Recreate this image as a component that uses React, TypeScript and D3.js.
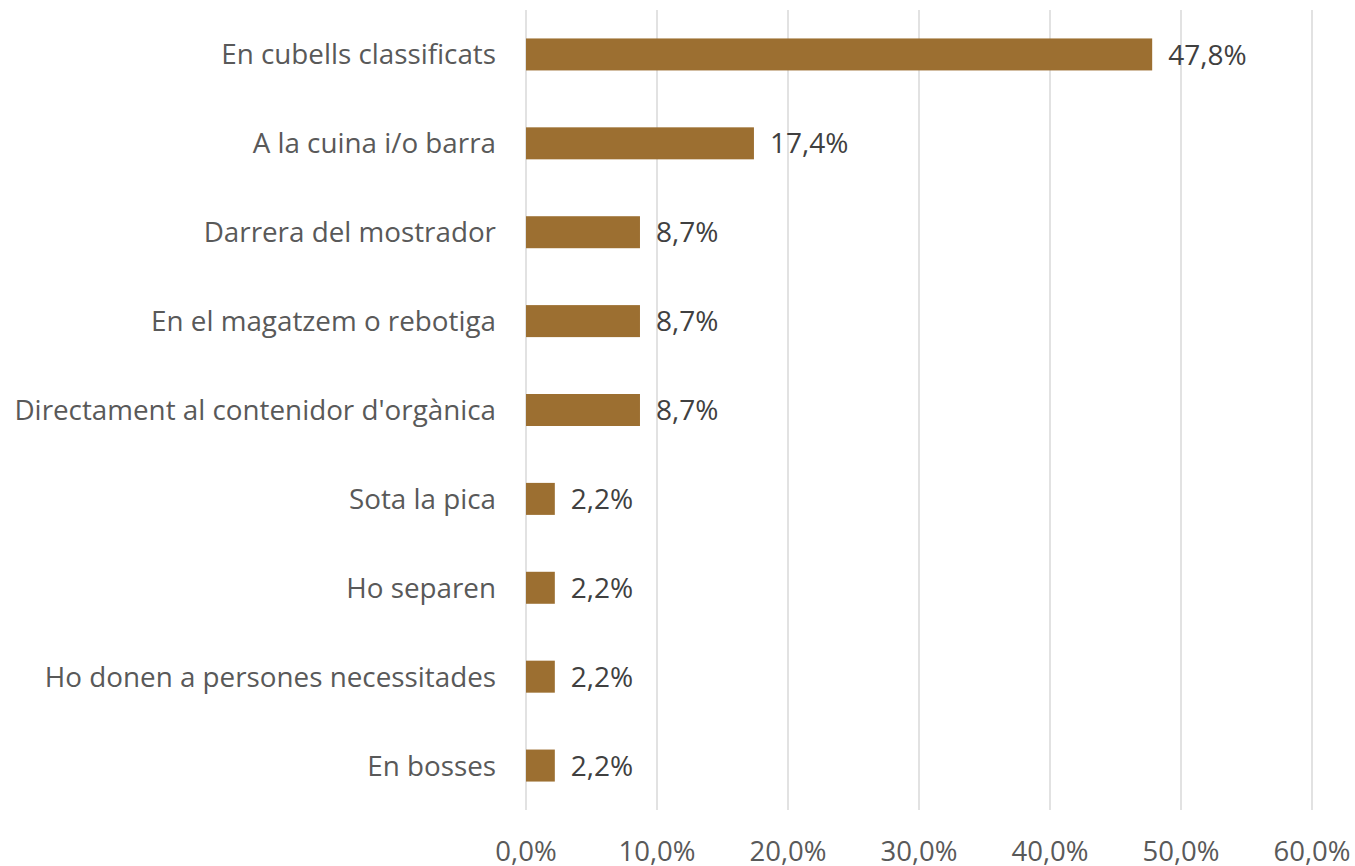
import React from "react";
import * as d3 from "d3";

const categories = [
  "En cubells classificats",
  "A la cuina i/o barra",
  "Darrera del mostrador",
  "En el magatzem o rebotiga",
  "Directament al contenidor d'orgànica",
  "Sota la pica",
  "Ho separen",
  "Ho donen a persones necessitades",
  "En bosses",
];
const values = [47.8, 17.4, 8.7, 8.7, 8.7, 2.2, 2.2, 2.2, 2.2];
const ticks = [0, 10, 20, 30, 40, 50, 60];

const W = 1355;
const H = 866;
const FONT = "'Open Sans', sans-serif";
const fmt = (v: number) => v.toFixed(1).replace(".", ",") + "%";

export default function App() {
  const x = d3.scaleLinear().domain([0, 60]).range([526, 1312]);
  const y = d3
    .scaleBand<string>()
    .domain(categories)
    .range([10, 810])
    .paddingInner(0.64)
    .paddingOuter(0.32);

  return (
    <svg
      width={W}
      height={H}
      style={{ position: "absolute", left: 0, top: 0, background: "#fff" }}
    >
      {ticks.map((t) => (
        <g key={t}>
          <line
            x1={x(t)}
            x2={x(t)}
            y1={10}
            y2={810}
            stroke="#D9D9D9"
            strokeWidth={1.5}
          />
          <text
            x={x(t)}
            y={861}
            textAnchor="middle"
            fontFamily={FONT}
            fontSize={27.5}
            fill="#595959"
          >
            {fmt(t)}
          </text>
        </g>
      ))}
      {categories.map((c, i) => {
        const yy = y(c)!;
        const bh = y.bandwidth();
        return (
          <g key={c}>
            <rect
              x={x(0)}
              y={yy}
              width={x(values[i]) - x(0)}
              height={bh}
              fill="#9C6F31"
            />
            <text
              x={496}
              y={yy + bh / 2}
              dy="0.36em"
              textAnchor="end"
              fontFamily={FONT}
              fontSize={27.8}
              fill="#595959"
            >
              {c}
            </text>
            <text
              x={x(values[i]) + 16}
              y={yy + bh / 2}
              dy="0.36em"
              textAnchor="start"
              fontFamily={FONT}
              fontSize={28}
              fill="#404040"
            >
              {fmt(values[i])}
            </text>
          </g>
        );
      })}
    </svg>
  );
}
